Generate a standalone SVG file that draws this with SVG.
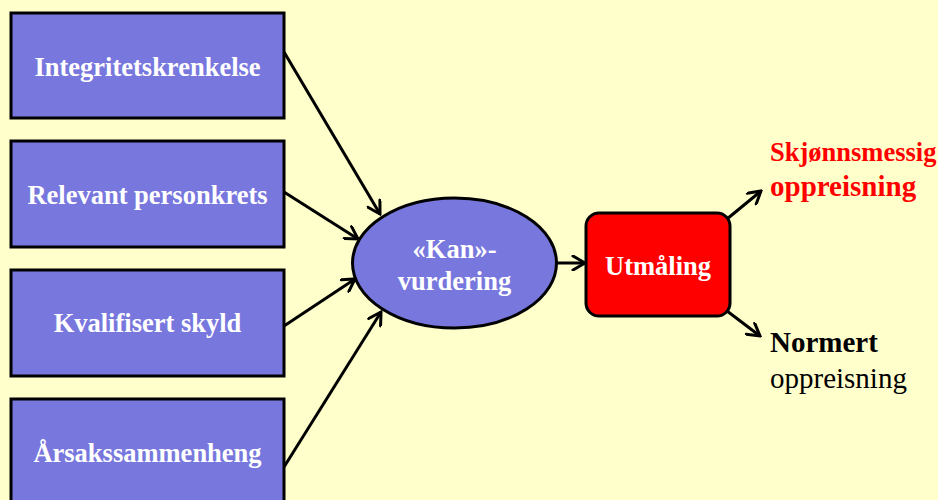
<svg xmlns="http://www.w3.org/2000/svg" width="938" height="500" viewBox="0 0 938 500">
<style>
.box{fill:#7777DD;stroke:#000;stroke-width:3}
.lbl{font-family:"Liberation Serif","Times New Roman",serif;font-weight:bold;font-size:26.5px;fill:#FFFFFF;text-anchor:middle}
.out{font-family:"Liberation Serif","Times New Roman",serif;font-size:29px}
.con{stroke:#000;stroke-width:3;fill:none;marker-end:url(#arr)}
</style>
<defs>
<marker id="arr" markerUnits="userSpaceOnUse" markerWidth="16" markerHeight="16" viewBox="0 0 16 16" refX="14" refY="8" orient="auto">
<path d="M2,1 L14,8 L2,15" fill="none" stroke="#000" stroke-width="3" stroke-linecap="round" stroke-linejoin="miter"/>
</marker>
</defs>
<rect x="0" y="0" width="938" height="500" fill="#FFFFCC"/>
<g id="connectors">
<line class="con" x1="284" y1="52" x2="380" y2="214"/>
<line class="con" x1="284" y1="192" x2="358" y2="239"/>
<line class="con" x1="284" y1="326" x2="355" y2="279"/>
<line class="con" x1="284" y1="467" x2="381" y2="312"/>
<line class="con" x1="557" y1="263" x2="585" y2="263"/>
<line class="con" x1="727" y1="219" x2="761" y2="191"/>
<line class="con" x1="727" y1="311" x2="760" y2="336"/>
</g>
<g id="n1"><rect class="box" x="11" y="13" width="273" height="105"/><text class="lbl" x="147.5" y="76">Integritetskrenkelse</text></g>
<g id="n2"><rect class="box" x="11" y="141" width="273" height="106"/><text class="lbl" x="147.5" y="204">Relevant personkrets</text></g>
<g id="n3"><rect class="box" x="11" y="270" width="273" height="106"/><text class="lbl" x="147.5" y="332">Kvalifisert skyld</text></g>
<g id="n4"><rect class="box" x="11" y="399" width="273" height="106"/><text class="lbl" x="147.5" y="462">Årsakssammenheng</text></g>
<g id="kan"><ellipse class="box" cx="454.5" cy="263" rx="102" ry="65"/><text class="lbl" x="454.5" y="258">«Kan»-</text><text class="lbl" x="454.5" y="290">vurdering</text></g>
<g id="utmaling"><rect x="586" y="213" width="144" height="103" rx="13" ry="13" fill="#FF0000" stroke="#000" stroke-width="3"/><text class="lbl" x="658" y="275">Utmåling</text></g>
<g id="skjonn"><text font-family="'Liberation Serif','Times New Roman',serif" font-weight="bold" font-size="26.5" fill="#FF0000" x="770" y="161">Skjønnsmessig</text><text class="out" font-weight="bold" fill="#FF0000" x="770" y="196">oppreisning</text></g>
<g id="normert"><text class="out" font-weight="bold" fill="#000" x="770" y="352">Normert</text><text class="out" fill="#000" x="770" y="388">oppreisning</text></g>
</svg>
